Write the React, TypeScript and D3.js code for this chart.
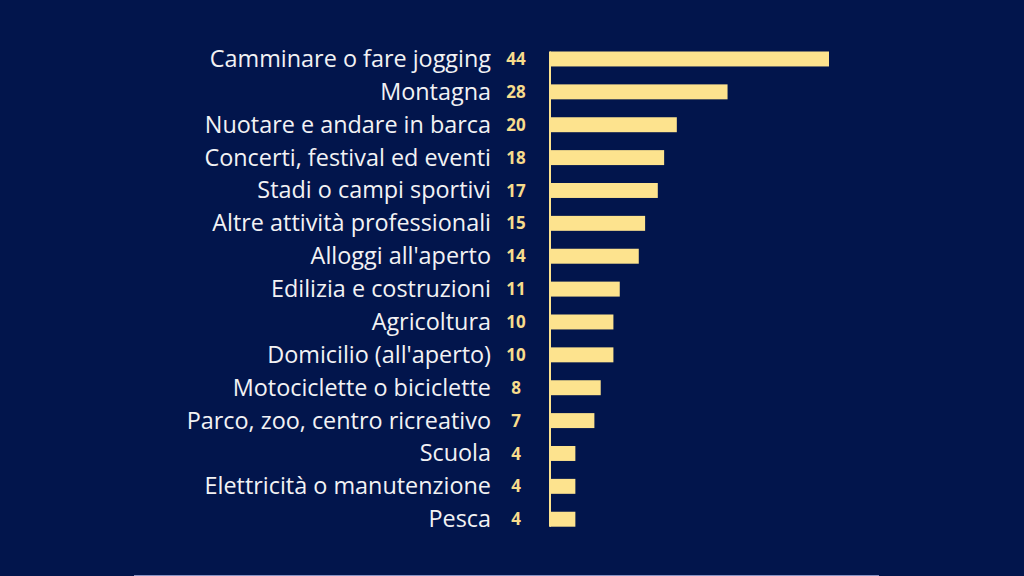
import React from 'react';
import * as d3 from 'd3';

const categories = [
  'Camminare o fare jogging',
  'Montagna',
  'Nuotare e andare in barca',
  'Concerti, festival ed eventi',
  'Stadi o campi sportivi',
  'Altre attività professionali',
  "Alloggi all'aperto",
  'Edilizia e costruzioni',
  'Agricoltura',
  "Domicilio (all'aperto)",
  'Motociclette o biciclette',
  'Parco, zoo, centro ricreativo',
  'Scuola',
  'Elettricità o manutenzione',
  'Pesca',
];
const values = [44, 28, 20, 18, 17, 15, 14, 11, 10, 10, 8, 7, 4, 4, 4];

const W = 1024;
const H = 576;
const BG = '#02154c';
const BAR = '#fde38e';

const App: React.FC = () => {
  const y = d3.scaleBand<string>()
    .domain(categories)
    .range([51.5, 526.7])
    .paddingInner(0.545)
    .paddingOuter(0);

  const x = d3.scaleLinear()
    .domain([0, 44])
    .range([550, 829]);

  return (
    <div style={{ position: 'fixed', left: 0, top: 0, width: W, height: H }}>
      <svg width={W} height={H} viewBox={`0 0 ${W} ${H}`} style={{ display: 'block' }}>
        <rect x={0} y={0} width={W} height={H} fill={BG} />

        {/* Bars */}
        {categories.map((c, i) => (
          <rect
            key={`bar-${c}`}
            x={x(0)}
            y={y(c)}
            width={x(values[i]) - x(0)}
            height={y.bandwidth()}
            fill={BAR}
          />
        ))}

        {/* Baseline */}
        <line
          x1={x(0)}
          x2={x(0)}
          y1={y.range()[0]}
          y2={y.range()[1]}
          stroke={BAR}
          strokeWidth={2}
        />

        {/* Category labels */}
        {categories.map((c) => (
          <text
            key={`label-${c}`}
            x={491}
            y={(y(c) ?? 0) + y.bandwidth() / 2}
            dy="0.34em"
            textAnchor="end"
            fill="#f2f2f4"
            fontFamily="'Open Sans', 'Noto Sans', sans-serif"
            fontSize={23.4}
          >
            {c}
          </text>
        ))}

        {/* Values */}
        {categories.map((c, i) => (
          <text
            key={`value-${c}`}
            x={516}
            y={(y(c) ?? 0) + y.bandwidth() / 2}
            dy="0.36em"
            textAnchor="middle"
            fill="#f7dc8c"
            fontFamily="'Open Sans', 'Noto Sans', sans-serif"
            fontWeight="bold"
            fontSize={17}
          >
            {values[i]}
          </text>
        ))}

        {/* Bottom rule */}
        <line x1={134} x2={879} y1={575.5} y2={575.5} stroke="#8a93c4" strokeWidth={1} />
      </svg>
    </div>
  );
};

export default App;
